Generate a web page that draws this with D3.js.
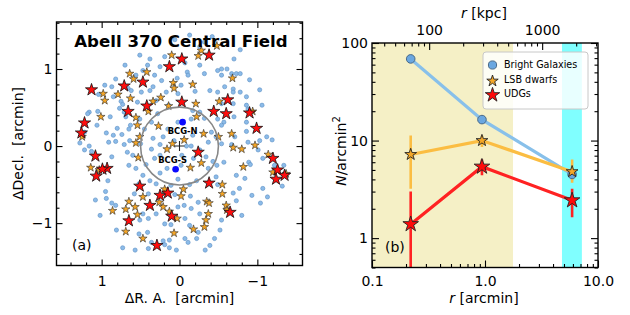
<!DOCTYPE html>
<html><head><meta charset="utf-8">
<script src="https://cdn.jsdelivr.net/npm/d3@7"></script>
<style>
html,body{margin:0;padding:0;background:#fff;}
svg{display:block;font-family:"DejaVu Sans",sans-serif;}
</style></head><body>
<svg id="c" width="630" height="315"></svg>
<script>
// ---------------- DATA: panel (a) positions [dRA, dDec] in arcmin ----------------
const brightGalaxies = [
[0.96,0.79],[1.04,0.67],[0.82,0.87],[0.85,0.64],[0.75,0.58],[0.73,0.54],[0.66,0.75],[0.56,0.92],[1.16,0.44],[1.18,0.42],[1.05,0.45],[0.89,0.38],[0.77,0.49],[0.71,0.44],[0.69,0.38],[0.63,0.27],[0.94,0.17],[0.85,0.14],[0.74,0.15],[0.65,0.22],[0.91,0.05],[0.82,0.06],[1.22,0.18],[0.64,0.07],[0.54,0.57],[0.62,0.72],[0.87,0.77],[0.80,0.23],
[-0.26,1.29],[-0.32,1.35],[0.38,1.13],[0.19,1.16],[-0.10,0.96],[-0.11,0.92],[0.03,0.88],[-0.02,0.79],[-0.32,0.94],[-0.49,0.98],[0.32,0.92],[0.23,0.85],[0.38,0.72],[0.34,0.77],[0.49,0.70],[0.17,0.70],[-0.20,0.71],[-0.39,0.72],[-0.49,0.70],[0.30,0.59],[0.14,0.53],[-0.17,0.46],[-0.26,0.44],[-0.32,0.36],[-0.49,0.35],[0.02,0.31],[-0.15,0.35],[0.36,0.31],[0.45,0.22],[0.34,0.10],[0.15,0.22],[0.07,0.07],[-0.17,0.14],[-0.41,0.18],[-0.47,0.12],[-0.37,0.05],[0.51,0.35],[0.41,1.05],[0.47,0.98],[0.02,0.68],[0.28,0.42],[-0.42,1.42],[-0.07,1.08],[-0.26,1.05],[0.25,1.03],
[-0.70,1.13],[-0.61,1.00],[-0.54,1.00],[-0.54,0.92],[-0.67,0.94],[-0.73,0.94],[-0.78,0.94],[-0.58,0.77],[-0.69,0.74],[-0.69,0.70],[-0.78,0.70],[-0.86,0.64],[-0.86,0.53],[-0.88,0.48],[-0.69,0.55],[-0.54,0.55],[-0.57,0.31],[-0.70,0.38],[-0.86,0.31],[-1.03,0.07],[-1.12,0.12],[-0.88,0.05],[-0.71,0.12],[-0.54,0.27],[-0.86,0.19],
[1.16,0.00],[1.13,-0.07],[0.71,0.02],[0.67,-0.08],[0.60,-0.12],[0.87,-0.14],[0.65,-0.25],[0.56,-0.29],[0.92,-0.45],[0.95,-0.59],[0.94,-0.68],[0.87,-0.74],[0.82,-0.77],[0.58,-0.62],[0.52,-0.49],[0.73,-1.32],[0.52,-1.14],
[0.50,0.03],[0.36,-0.04],[0.25,0.02],[-0.09,0.00],[-0.15,0.00],[-0.34,-0.14],[0.43,-0.24],[0.32,-0.16],[0.16,-0.29],[-0.02,-0.25],[-0.37,-0.29],[-0.48,-0.25],[0.47,-0.38],[0.38,-0.45],[0.30,-0.49],[0.11,-0.51],[0.02,-0.43],[-0.13,-0.50],[-0.22,-0.45],[-0.47,-0.40],[-0.49,-0.50],[0.40,-0.62],[0.06,-0.63],[-0.14,-0.65],[-0.24,-0.73],[-0.06,-0.77],[-0.15,-0.81],[-0.26,-0.88],[0.02,-0.79],[0.30,-0.88],[0.40,-0.94],[0.19,-1.01],[0.11,-1.02],[-0.07,-0.94],[-0.13,-1.03],[-0.24,-1.12],[-0.07,-1.20],[-0.11,-1.25],[-0.22,-1.20],[0.41,-1.12],[0.36,-1.25],[0.21,-1.23],[0.19,-1.28],[0.13,-1.32],[0.40,-1.33],[0.13,-1.22],[-0.52,-1.09],[-0.45,-1.20],[0.47,-0.88],[0.51,-0.96],[-0.03,-0.12],[-0.18,-0.16],[-0.43,-0.20],[0.25,-0.35],[0.21,0.12],
[-0.54,0.03],[-0.67,0.02],[-1.07,-0.16],[-0.89,-0.21],[-0.91,-0.24],[-0.57,-0.21],[-0.73,-0.38],[-0.77,-0.55],[-0.69,-0.61],[-0.73,-0.71],[-1.07,-0.55],[-1.04,-0.74],[-1.32,-0.52],[-0.54,-0.96],[-1.22,-0.25],
[-1.06,0.53],[-1.19,0.08],[-1.01,-0.05],[-0.84,-0.42],[-0.93,-0.64],[-1.13,-0.66],[-1.34,-0.25],[-0.80,-0.90],[-0.39,-1.29],[-0.33,-1.35],[0.04,-1.35],[0.57,-1.35],[0.81,-1.09],[1.02,-0.90],[1.08,-0.70],[1.22,-0.05],[1.28,0.04],[1.06,0.27],[0.70,1.05],[0.51,1.18],[0.06,1.38],[-0.13,1.44],[-0.78,1.25],[-0.90,0.86],[-1.03,0.73],[0.25,-0.12],[-0.26,-0.05]
];
const lsbDwarfs = [
[0.10,1.18],[-0.24,1.17],[-0.28,1.24],[-0.48,1.30],[0.64,0.94],[0.42,0.96],[0.59,0.87],[0.08,0.82],[0.07,0.75],[-0.17,0.80],[-0.68,0.88],[0.98,0.68],[0.96,0.59],[0.79,0.67],[0.63,0.62],[0.24,0.63],[0.34,0.58],[0.14,0.52],[-0.21,0.55],[-0.51,0.58],[0.40,0.45],[-0.22,0.38],[0.56,0.37],[0.54,0.27],[0.27,0.26],[1.01,0.38],[-0.31,0.16],[-0.50,0.12],[-0.67,0.16],[-0.94,0.45],[1.25,0.12],[-0.06,0.08],[0.51,0.12],
[-0.69,-0.02],[-0.80,-0.04],[-0.97,0.01],[-1.14,-0.11],[0.16,-0.04],[0.09,0.03],[0.56,0.04],[0.53,-0.15],[-0.28,-0.22],[-0.14,-0.28],[-0.82,-0.27],[1.14,-0.28],[1.03,-0.31],[-0.55,-0.50],[-0.55,-0.62],[-1.20,-0.34],[-1.37,-0.36],[0.19,-0.56],[-0.05,-0.56],[-0.02,-0.65],[0.47,-0.66],[0.26,-0.73],[0.21,-0.79],[0.13,-0.85],[0.03,-0.94],[0.65,-0.72],[0.57,-0.79],[0.69,-0.82],[0.54,-0.89],[0.86,-0.84],[-0.35,-0.72],[-0.38,-0.74],[-0.37,-0.88],[-0.34,-0.96],[-0.32,-1.05],[-0.18,-1.08],[0.07,-1.13],[0.47,-1.20],[0.69,-1.11],[-0.60,-0.77],[-0.61,-0.83]
];
const udgs = [
[-0.03,1.13],[-0.38,1.18],[0.13,1.03],[1.13,0.73],[0.71,0.78],[0.47,0.83],[-0.03,0.57],[-0.62,0.60],[0.42,0.52],[0.66,0.45],[-0.44,0.45],[-0.60,0.42],[-0.90,0.43],[-0.99,0.23],[1.22,0.30],[1.26,0.17],[1.08,-0.13],[0.93,-0.29],[0.99,-0.30],[1.07,-0.39],[-0.24,-0.08],[-0.38,-0.48],[-1.20,-0.16],[-1.26,-0.31],[-1.24,-0.43],[-1.35,-0.38],[0.51,-0.52],[0.25,-0.64],[0.15,-0.61],[0.38,-0.77],[0.10,-0.91],[-0.65,-0.86],[0.65,-0.97],[0.29,-1.29]
];
const bcgNames = ["BCG-N","BCG-S"];
const bcgPos = [[-0.04,0.31],[0.05,-0.30]];
const apertureRadius = 0.5;
const leftMajorTicks = [-1,0,1];

// ---------------- DATA: panel (b) radial profiles ----------------
const radiusArcmin = [0.22, 0.94, 5.9];
const brightDensity = [68.7, 16.4, 4.5];
const brightLow  = [63, 15.2, 3.9];
const brightHigh = [75, 17.7, 5.2];
const lsbDensity = [7.2, 10.0, 4.8];
const lsbLow  = [3.2, 8.6, 3.7];
const lsbHigh = [11.3, 11.2, 6.4];
const udgDensity = [1.39, 5.4, 2.44];
const udgLow  = [0.3, 4.4, 1.64];
const udgHigh = [3.0, 6.4, 3.2];
const innerRegion = [0.1, 1.77];
const outerRegion = [4.8, 7.2];
const kpcPerArcmin = 312;
const seriesNames = ["Bright Galaxies","LSB dwarfs","UDGs"];
const rightXTicks = [0.1, 1, 10];
const rightXLabels = ["0.1","1.0","10.0"];
const rightYTicks = [1, 10, 100];
const kpcTicks = [100, 1000];

// ---------------- DRAWING ----------------
const svg = d3.select("#c");
const defs = svg.append("defs");
const FS = 14;
const starPath = R => d3.symbol().type(d3.symbolStar).size(R*R/0.8908)();

function styleAxis(g, fs){
  g.select(".domain").remove();
  g.selectAll("line").attr("stroke","#000").attr("stroke-width",1.1);
  g.selectAll("text").attr("font-size",fs).attr("fill","#000").attr("font-family","DejaVu Sans");
}
function minorRange(a,b,step,majors){
  return d3.range(a,b+1e-9,step).map(v=>+v.toFixed(6)).filter(v=>!majors.some(m=>Math.abs(m-v)<1e-6));
}

// ===== Panel (a)
const A = {x0:56.5, x1:302.5, y0:22, y1:265.5};
const xA = d3.scaleLinear().domain([1.58,-1.58]).range([A.x0,A.x1]);
const yA = d3.scaleLinear().domain([-1.55,1.61]).range([A.y1,A.y0]);
defs.append("clipPath").attr("id","clipA").append("rect")
  .attr("x",A.x0).attr("y",A.y0).attr("width",A.x1-A.x0).attr("height",A.y1-A.y0);
const gA = svg.append("g");
const pA = gA.append("g").attr("clip-path","url(#clipA)");

pA.selectAll("circle.bg").data(brightGalaxies).join("circle").attr("class","bg")
  .attr("cx",d=>xA(d[0])).attr("cy",d=>yA(d[1])).attr("r",2.1)
  .attr("fill","#8cbbe8").attr("stroke","#5b8ec4").attr("stroke-width",0.6);
pA.selectAll("path.lsb").data(lsbDwarfs).join("path").attr("class","lsb")
  .attr("d",starPath(4.4)).attr("transform",d=>`translate(${xA(d[0])},${yA(d[1])})`)
  .attr("fill","#f5a525").attr("stroke","#2b2b2b").attr("stroke-width",0.6);
pA.selectAll("path.udg").data(udgs).join("path").attr("class","udg")
  .attr("d",starPath(6.4)).attr("transform",d=>`translate(${xA(d[0])},${yA(d[1])})`)
  .attr("fill","#ff0d0d").attr("stroke","#111").attr("stroke-width",0.8);

pA.append("circle").attr("cx",xA(0)).attr("cy",yA(0))
  .attr("r",xA(0)-xA(apertureRadius)).attr("fill","none").attr("stroke","#888").attr("stroke-width",1.6);
pA.append("path").attr("d",`M${xA(0)-5},${yA(0)}H${xA(0)+5}M${xA(0)},${yA(0)-5}V${yA(0)+5}`)
  .attr("stroke","#222").attr("stroke-width",1.1);
pA.selectAll("circle.bcg").data(bcgPos).join("circle").attr("class","bcg")
  .attr("cx",d=>xA(d[0])).attr("cy",d=>yA(d[1])).attr("r",3.3).attr("fill","#0a0aff");
const bcgOff = [[0,12],[-3,-6]];
pA.selectAll("text.bcgl").data(bcgPos).join("text").attr("class","bcgl")
  .attr("x",(d,i)=>xA(d[0])+bcgOff[i][0]).attr("y",(d,i)=>yA(d[1])+bcgOff[i][1])
  .attr("text-anchor","middle").attr("font-size",8.4).attr("font-weight","bold").text((d,i)=>bcgNames[i]);

gA.append("text").attr("x",181).attr("y",47).attr("text-anchor","middle")
  .attr("font-size",16.6).attr("font-weight","bold").text("Abell 370 Central Field");
gA.append("text").attr("x",72).attr("y",249.5).attr("font-size",FS).text("(a)");

const minorA = minorRange(-1.4,1.4,0.2,leftMajorTicks);
const minorAy = minorRange(-1.4,1.6,0.2,leftMajorTicks);
const fmtA = d => d<0 ? "\u2212"+Math.abs(d) : String(d);
gA.append("g").attr("transform",`translate(0,${A.y1})`)
  .call(d3.axisBottom(xA).tickValues(leftMajorTicks).tickSize(-6).tickPadding(11).tickFormat(fmtA)).call(g=>styleAxis(g,FS));
gA.append("g").attr("transform",`translate(0,${A.y1})`)
  .call(d3.axisBottom(xA).tickValues(minorA).tickSize(-3).tickFormat("")).call(g=>styleAxis(g,FS));
gA.append("g").attr("transform",`translate(0,${A.y0})`)
  .call(d3.axisTop(xA).tickValues(leftMajorTicks).tickSize(-6).tickFormat("")).call(g=>styleAxis(g,FS));
gA.append("g").attr("transform",`translate(0,${A.y0})`)
  .call(d3.axisTop(xA).tickValues(minorA).tickSize(-3).tickFormat("")).call(g=>styleAxis(g,FS));
gA.append("g").attr("transform",`translate(${A.x0},0)`)
  .call(d3.axisLeft(yA).tickValues(leftMajorTicks).tickSize(-6).tickPadding(4).tickFormat(fmtA)).call(g=>styleAxis(g,FS));
gA.append("g").attr("transform",`translate(${A.x0},0)`)
  .call(d3.axisLeft(yA).tickValues(minorAy).tickSize(-3).tickFormat("")).call(g=>styleAxis(g,FS));
gA.append("g").attr("transform",`translate(${A.x1},0)`)
  .call(d3.axisRight(yA).tickValues(leftMajorTicks).tickSize(-6).tickFormat("")).call(g=>styleAxis(g,FS));
gA.append("g").attr("transform",`translate(${A.x1},0)`)
  .call(d3.axisRight(yA).tickValues(minorAy).tickSize(-3).tickFormat("")).call(g=>styleAxis(g,FS));
gA.append("rect").attr("x",A.x0).attr("y",A.y0).attr("width",A.x1-A.x0).attr("height",A.y1-A.y0)
  .attr("fill","none").attr("stroke","#000").attr("stroke-width",1.4);
gA.append("text").attr("x",179.5).attr("y",302.5).attr("text-anchor","middle").attr("font-size",FS)
  .style("white-space","pre").text("\u0394R. A.  [arcmin]");
gA.append("text").attr("transform","translate(23,143.5) rotate(-90)").attr("text-anchor","middle").attr("font-size",FS)
  .style("white-space","pre").text("\u0394Decl.  [arcmin]");

// ===== Panel (b)
const B = {x0:372, x1:598, y0:43, y1:267.5};
const xB = d3.scaleLog().domain([0.1,10]).range([B.x0,B.x1]);
const yB = d3.scaleLog().domain([0.5,100]).range([B.y1,B.y0]);
const xK = d3.scaleLog().domain([0.1*kpcPerArcmin, 10*kpcPerArcmin]).range([B.x0,B.x1]);
defs.append("clipPath").attr("id","clipB").append("rect")
  .attr("x",B.x0).attr("y",B.y0).attr("width",B.x1-B.x0).attr("height",B.y1-B.y0);
const gB = svg.append("g");
const pB = gB.append("g").attr("clip-path","url(#clipB)");
pB.append("rect").attr("x",xB(innerRegion[0])).attr("y",B.y0).attr("width",xB(innerRegion[1])-xB(innerRegion[0]))
  .attr("height",B.y1-B.y0).attr("fill","#f5f0c6");
pB.append("rect").attr("x",xB(outerRegion[0])).attr("y",B.y0).attr("width",xB(outerRegion[1])-xB(outerRegion[0]))
  .attr("height",B.y1-B.y0).attr("fill","#80ffff");

const series = [
  {vals:brightDensity, lo:brightLow, hi:brightHigh, color:"#88c0ea", type:"circle"},
  {vals:lsbDensity, lo:lsbLow, hi:lsbHigh, color:"#fbbd42", type:"lsb"},
  {vals:udgDensity, lo:udgLow, hi:udgHigh, color:"#ff2222", type:"udg"}
];
const line = d3.line().x(d=>xB(d[0])).y(d=>yB(d[1]));
series.forEach(s=>{
  const pts = radiusArcmin.map((r,i)=>[r,s.vals[i],s.lo[i],s.hi[i]]);
  pB.selectAll(null).data(pts).join("line")
    .attr("x1",d=>xB(d[0])).attr("x2",d=>xB(d[0])).attr("y1",d=>yB(d[2])).attr("y2",d=>yB(d[3]))
    .attr("stroke",s.color).attr("stroke-width",2.6);
  pB.append("path").attr("d",line(pts)).attr("fill","none").attr("stroke",s.color).attr("stroke-width",3.2);
});
series.forEach(s=>{
  const pts = radiusArcmin.map((r,i)=>[r,s.vals[i]]);
  if(s.type==="circle"){
    pB.selectAll(null).data(pts).join("circle").attr("cx",d=>xB(d[0])).attr("cy",d=>yB(d[1])).attr("r",4.3)
      .attr("fill","#6aa7e0").attr("stroke","#4a6a88").attr("stroke-width",1);
  } else {
    const R = s.type==="lsb"?6.2:8.2;
    pB.selectAll(null).data(pts).join("path").attr("d",starPath(R))
      .attr("transform",d=>`translate(${xB(d[0])},${yB(d[1])})`)
      .attr("fill",s.type==="lsb"?"#f5a828":"#ff0a0a").attr("stroke","#222").attr("stroke-width",0.9);
  }
});
gB.append("text").attr("x",385).attr("y",252).attr("font-size",FS).text("(b)");

const lg = gB.append("g");
lg.append("rect").attr("x",483).attr("y",52).attr("width",105).attr("height",57).attr("rx",3)
  .attr("fill","#fff").attr("fill-opacity",0.82).attr("stroke","#c8c8c8").attr("stroke-width",1);
const legY = [65, 80, 94];
lg.append("circle").attr("cx",492.5).attr("cy",legY[0]).attr("r",4.1)
  .attr("fill","#6aa7e0").attr("stroke","#4a6a88").attr("stroke-width",1);
lg.append("path").attr("d",starPath(6)).attr("transform",`translate(492.5,${legY[1]+1})`)
  .attr("fill","#f5a828").attr("stroke","#222").attr("stroke-width",0.9);
lg.append("path").attr("d",starPath(7.6)).attr("transform",`translate(492.5,${legY[2]+1})`)
  .attr("fill","#ff0a0a").attr("stroke","#222").attr("stroke-width",0.9);
lg.selectAll("text").data(seriesNames).join("text").attr("x",504).attr("y",(d,i)=>legY[i]+3.4)
  .attr("font-size",9.6).text(d=>d);

const minorX = [0.2,0.3,0.4,0.5,0.6,0.7,0.8,0.9,2,3,4,5,6,7,8,9];
const minorY = [0.5,0.6,0.7,0.8,0.9,2,3,4,5,6,7,8,9,20,30,40,50,60,70,80,90];
const minorK = [40,50,60,70,80,90,200,300,400,500,600,700,800,900,2000,3000];
gB.append("g").attr("transform",`translate(0,${B.y1})`)
  .call(d3.axisBottom(xB).tickValues(rightXTicks).tickSize(-7).tickPadding(9).tickFormat((d,i)=>rightXLabels[i])).call(g=>styleAxis(g,FS));
gB.append("g").attr("transform",`translate(0,${B.y1})`)
  .call(d3.axisBottom(xB).tickValues(minorX).tickSize(-3.5).tickFormat("")).call(g=>styleAxis(g,FS));
gB.append("g").attr("transform",`translate(0,${B.y0})`)
  .call(d3.axisTop(xK).tickValues(kpcTicks).tickSize(-7).tickPadding(8).tickFormat(d3.format("d"))).call(g=>styleAxis(g,FS));
gB.append("g").attr("transform",`translate(0,${B.y0})`)
  .call(d3.axisTop(xK).tickValues(minorK).tickSize(-3.5).tickFormat("")).call(g=>styleAxis(g,FS));
gB.append("g").attr("transform",`translate(${B.x0},0)`)
  .call(d3.axisLeft(yB).tickValues(rightYTicks).tickSize(-7).tickPadding(4).tickFormat(d3.format("d"))).call(g=>styleAxis(g,FS));
gB.append("g").attr("transform",`translate(${B.x0},0)`)
  .call(d3.axisLeft(yB).tickValues(minorY).tickSize(-3.5).tickFormat("")).call(g=>styleAxis(g,FS));
gB.append("g").attr("transform",`translate(${B.x1},0)`)
  .call(d3.axisRight(yB).tickValues(rightYTicks).tickSize(-7).tickFormat("")).call(g=>styleAxis(g,FS));
gB.append("g").attr("transform",`translate(${B.x1},0)`)
  .call(d3.axisRight(yB).tickValues(minorY).tickSize(-3.5).tickFormat("")).call(g=>styleAxis(g,FS));
gB.append("rect").attr("x",B.x0).attr("y",B.y0).attr("width",B.x1-B.x0).attr("height",B.y1-B.y0)
  .attr("fill","none").attr("stroke","#000").attr("stroke-width",1.4);
const rl = gB.append("text").attr("x",484).attr("y",302.5).attr("text-anchor","middle").attr("font-size",FS);
rl.append("tspan").attr("font-style","italic").text("r");
rl.append("tspan").text(" [arcmin]");
const tl = gB.append("text").attr("x",484).attr("y",17.5).attr("text-anchor","middle").attr("font-size",FS);
tl.append("tspan").attr("font-style","italic").text("r");
tl.append("tspan").text(" [kpc]");
const yl = gB.append("text").attr("transform","translate(346,151) rotate(-90)").attr("text-anchor","middle").attr("font-size",FS);
yl.append("tspan").attr("font-style","italic").text("N");
yl.append("tspan").text("/arcmin");
yl.append("tspan").attr("font-size",10).attr("dy",-6).text("2");
</script>
</body></html>
